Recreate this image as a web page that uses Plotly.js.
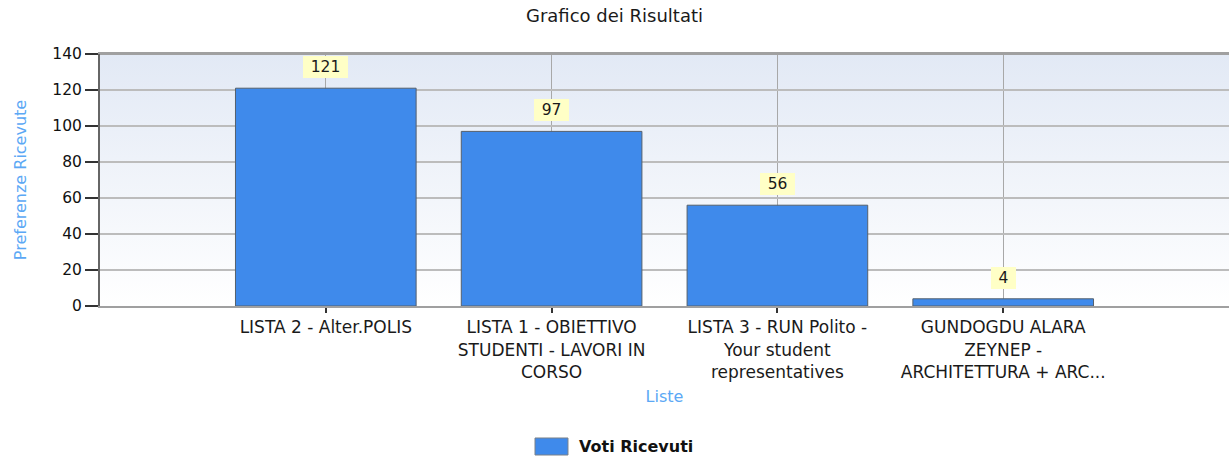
<!DOCTYPE html>
<html>
<head>
<meta charset="utf-8">
<script src="https://cdn.plot.ly/plotly-3.0.1.min.js"></script>
<style>
  html, body { margin: 0; padding: 0; background: #ffffff; }
  #chart { width: 1229px; height: 459px; }
</style>
</head>
<body>
<div id="chart"></div>
<script>
// ---- data ----
const categories = [
  "LISTA 2 - Alter.POLIS",
  "LISTA 1 - OBIETTIVO STUDENTI - LAVORI IN CORSO",
  "LISTA 3 - RUN Polito - Your student representatives",
  "GUNDOGDU ALARA ZEYNEP - ARCHITETTURA + ARC..."
];
const tickLabels = [
  "LISTA 2 - Alter.POLIS",
  "LISTA 1 - OBIETTIVO<br>STUDENTI - LAVORI IN<br>CORSO",
  "LISTA 3 - RUN Polito -<br>Your student<br>representatives",
  "GUNDOGDU ALARA<br>ZEYNEP -<br>ARCHITETTURA + ARC..."
];
const votes = [121, 97, 56, 4];
const seriesName = "Voti Ricevuti";
const yTicks = [0, 20, 40, 60, 80, 100, 120, 140];

// ---- style ----
const FONT = "DejaVu Sans, Liberation Sans, Arial, sans-serif";
const blueTitle = "#5ba8f5";
const barColor = "#3f8aeb";

const gradSvg = "<svg xmlns='http://www.w3.org/2000/svg' width='100' height='100' preserveAspectRatio='none'>" +
  "<defs><linearGradient id='g' x1='0' y1='0' x2='0' y2='1'>" +
  "<stop offset='0' stop-color='#e2e9f5'/><stop offset='1' stop-color='#ffffff'/>" +
  "</linearGradient></defs><rect width='100' height='100' fill='url(#g)'/></svg>";

const trace = {
  type: "bar",
  x: categories,
  y: votes,
  name: seriesName,
  showlegend: false,
  marker: { color: barColor, line: { color: "#55606c", width: 1 } },
  hoverinfo: "x+y"
};

const annotations = categories.map((c, i) => ({
  x: c, y: votes[i], xref: "x", yref: "y",
  text: String(votes[i]),
  showarrow: false,
  yanchor: "bottom", xanchor: "center",
  yshift: 10,
  bgcolor: "#ffffc6",
  borderpad: 0, borderwidth: 0,
  width: 10 * String(votes[i]).length + 15,
  height: 22,
  font: { family: FONT, size: 15.5, color: "#1a1a1a" }
}));

// legend entry (drawn as swatch + label, matching the reference's wide swatch)
annotations.push({
  xref: "paper", yref: "paper",
  x: 0.4225, y: -0.5595, xanchor: "left", yanchor: "middle",
  text: "<b>" + seriesName + "</b>",
  showarrow: false,
  font: { family: FONT, size: 16, color: "#111111" }
});

const layout = {
  width: 1229, height: 459,
  margin: { l: 100, r: 0, t: 54, b: 153, autoexpand: false },
  paper_bgcolor: "#ffffff",
  plot_bgcolor: "rgba(0,0,0,0)",
  font: { family: FONT, color: "#222222" },
  title: {
    text: "Grafico dei Risultati",
    font: { family: FONT, size: 18, color: "#1a1a1a" },
    x: 0.5, xref: "container", xanchor: "center",
    y: 0.965, yref: "container", yanchor: "middle"
  },
  bargap: 0.2,
  showlegend: false,
  xaxis: {
    type: "category",
    range: [-1, 4],
    tickvals: categories,
    ticktext: tickLabels,
    tickfont: { family: FONT, size: 17, color: "#1a1a1a" },
    ticks: "outside", ticklen: 5, tickwidth: 2, tickcolor: "#333333",
    showgrid: true, gridcolor: "#a8a8a8", gridwidth: 1,
    showline: true, linecolor: "#a0a0a0", linewidth: 2, mirror: true,
    zeroline: false,
    fixedrange: true,
    automargin: false,
    title: {
      text: "Liste",
      font: { family: FONT, size: 16, color: blueTitle },
      standoff: 10
    }
  },
  yaxis: {
    range: [0, 140],
    tickvals: yTicks,
    tickfont: { family: FONT, size: 15.5, color: "#111111" },
    ticks: "outside", ticklen: 13, tickwidth: 2, tickcolor: "#333333",
    showgrid: true, gridcolor: "#bcbcbc", gridwidth: 1.5,
    showline: true, linecolor: "#666666", linewidth: 2,
    zeroline: false,
    fixedrange: true,
    automargin: false,
    title: {
      text: "Preferenze Ricevute",
      font: { family: FONT, size: 16, color: blueTitle },
      standoff: 22
    }
  },
  images: [{
    source: "data:image/svg+xml;charset=utf-8," + encodeURIComponent(gradSvg),
    xref: "paper", yref: "paper",
    x: 0, y: 1, sizex: 1, sizey: 1,
    sizing: "stretch", layer: "below",
    xanchor: "left", yanchor: "top"
  }],
  shapes: [
    {
      type: "line", xref: "paper", yref: "paper",
      x0: 0, x1: 1, y0: 1, y1: 1,
      line: { color: "#a0a0a0", width: 2 }
    },
    {
      type: "rect", xref: "paper", yref: "paper",
      x0: 0.3853, x1: 0.4145, y0: -0.5913, y1: -0.5238,
      fillcolor: barColor, line: { color: "#7a8088", width: 1 }
    }
  ],
  annotations: annotations
};

Plotly.newPlot("chart", [trace], layout, { displayModeBar: false });
</script>
</body>
</html>
